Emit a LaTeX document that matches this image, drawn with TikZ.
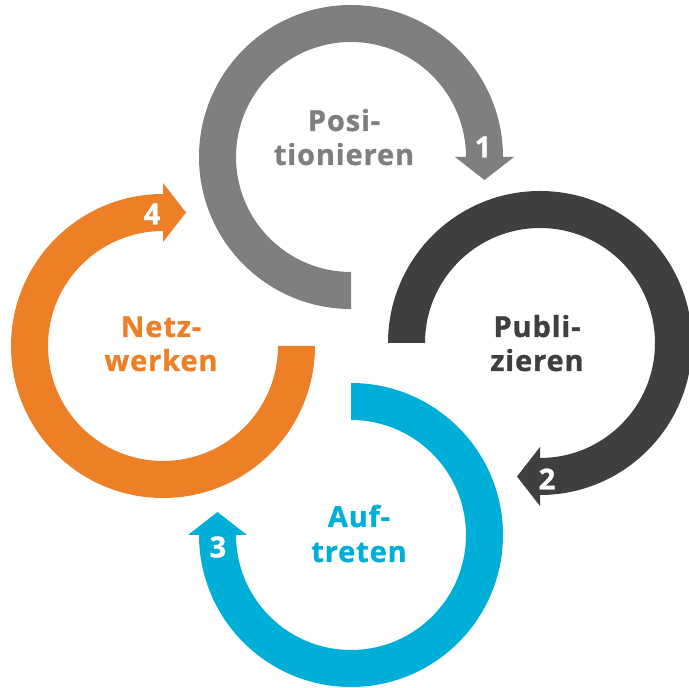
\documentclass[tikz,border=0pt]{standalone}
\usepackage{fontspec}
\setmainfont{Open Sans}[LetterSpace=3, BoldFeatures={FakeBold=1}]
\usetikzlibrary{calc}
\definecolor{cgray}{HTML}{7F7F7F}
\definecolor{cdark}{HTML}{3F3F3F}
\definecolor{ccyan}{HTML}{00AFD7}
\definecolor{corange}{HTML}{ED7F27}
\newcommand\cyclearrow[4]{%
  \begin{scope}[shift={(#1)}]
    \fill[#4] (#2:115) -- (#2:152) arc[start angle=#2, end angle=#3, radius=152pt]
      -- (#3:163) -- ($(#3:133.5)+({#3-90}:23)$) -- (#3:104) -- (#3:115)
      arc[start angle=#3, end angle=#2, radius=115pt] -- cycle;
  \end{scope}}
\tikzset{
  lbl/.style={font=\fontsize{29}{34}\selectfont\bfseries, anchor=base, inner sep=0pt},
  num/.style={font=\fontsize{29}{34}\selectfont\bfseries, text=white, anchor=center, inner sep=0pt}
}
\begin{document}
\begin{tikzpicture}[x=1pt,y=1pt]
\useasboundingbox (0,0) rectangle (689,688);
\cyclearrow{351,531}{270}{0}{cgray}
\cyclearrow{540,345}{180}{-90}{cdark}
\cyclearrow{351,153}{90}{-180}{ccyan}
\cyclearrow{163,342}{0}{-270}{corange}
\node[lbl, text=cgray] (p1) at (344,557) {Posi-};
\node[lbl, text=cgray] (p2) at (344,523) {tionieren};
\node[lbl, text=cdark] (u1) at (537,351) {Publi-};
\node[lbl, text=cdark] (u2) at (537,317) {zieren};
\node[lbl, text=ccyan] (a1) at (359,161) {Auf-};
\node[lbl, text=ccyan] (a2) at (359,126) {treten};
\node[lbl, text=corange] (n1) at (161,351) {Netz-};
\node[lbl, text=corange] (n2) at (161,317) {werken};
\node[num] (k1) at (483,541) {1};
\node[num] (k2) at (547,209) {2};
\node[num] (k3) at (218,141) {3};
\node[num] (k4) at (152,474) {4};
\end{tikzpicture}
\end{document}
